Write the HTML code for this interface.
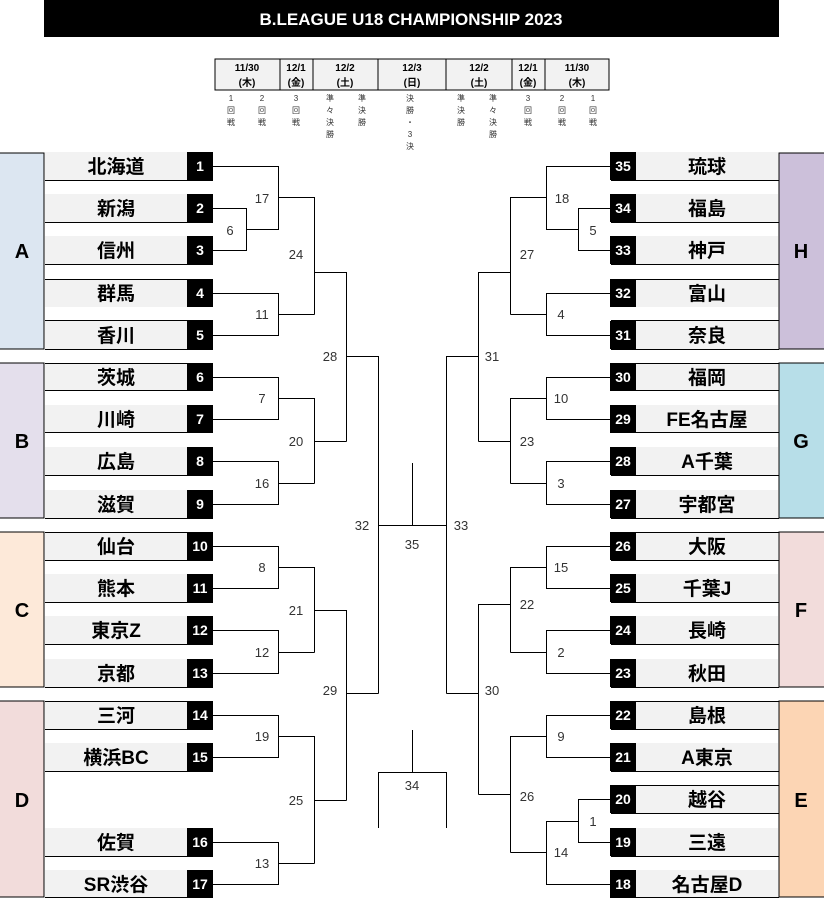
<!DOCTYPE html>
<html><head><meta charset="utf-8"><style>
html,body{margin:0;padding:0;background:#fff;}
svg{display:block;font-family:"Liberation Sans","Noto Sans CJK JP",sans-serif;}
.t{font-size:19px;font-weight:bold;fill:#000;text-anchor:middle;font-family:"Liberation Sans","Noto Sans CJK JP",sans-serif;}
.n{font-size:14px;font-weight:bold;fill:#fff;text-anchor:middle;}
.l{font-size:13px;fill:#333;text-anchor:middle;}
.g{font-size:20px;font-weight:bold;fill:#000;text-anchor:middle;}
.s{font-size:8px;fill:#333;text-anchor:middle;font-family:"Liberation Sans","Noto Sans CJK JP",sans-serif;}
.h{font-size:10px;font-weight:bold;fill:#000;text-anchor:middle;font-family:"Liberation Sans","Noto Sans CJK JP",sans-serif;}
</style></head><body>
<svg width="824" height="900" viewBox="0 0 824 900" xmlns="http://www.w3.org/2000/svg">
<rect x="44" y="0" width="735" height="37" fill="#000"/>
<text x="411" y="25" fill="#fff" font-size="17" font-weight="bold" text-anchor="middle">B.LEAGUE U18 CHAMPIONSHIP 2023</text>

<!-- schedule -->
<rect x="215" y="59" width="394" height="31" fill="#f2f2f2" stroke="#000"/>
<g stroke="#000"><line x1="280" y1="59" x2="280" y2="90"/><line x1="313" y1="59" x2="313" y2="90"/><line x1="378" y1="59" x2="378" y2="90"/><line x1="446" y1="59" x2="446" y2="90"/><line x1="512" y1="59" x2="512" y2="90"/><line x1="545" y1="59" x2="545" y2="90"/></g>
<g class="h">
<text x="247" y="71">11/30</text><text x="247" y="86">(木)</text>
<text x="296" y="71">12/1</text><text x="296" y="86">(金)</text>
<text x="345" y="71">12/2</text><text x="345" y="86">(土)</text>
<text x="412" y="71">12/3</text><text x="412" y="86">(日)</text>
<text x="479" y="71">12/2</text><text x="479" y="86">(土)</text>
<text x="528" y="71">12/1</text><text x="528" y="86">(金)</text>
<text x="577" y="71">11/30</text><text x="577" y="86">(木)</text>
</g>
<g class="s">
<text x="231" y="101">1</text><text x="231" y="113">回</text><text x="231" y="125">戦</text>
<text x="262" y="101">2</text><text x="262" y="113">回</text><text x="262" y="125">戦</text>
<text x="296" y="101">3</text><text x="296" y="113">回</text><text x="296" y="125">戦</text>
<text x="330" y="101">準</text><text x="330" y="113">々</text><text x="330" y="125">決</text><text x="330" y="137">勝</text>
<text x="362" y="101">準</text><text x="362" y="113">決</text><text x="362" y="125">勝</text>
<text x="410" y="101">決</text><text x="410" y="113">勝</text><text x="410" y="125">・</text><text x="410" y="137">3</text><text x="410" y="149">決</text>
<text x="461" y="101">準</text><text x="461" y="113">決</text><text x="461" y="125">勝</text>
<text x="493" y="101">準</text><text x="493" y="113">々</text><text x="493" y="125">決</text><text x="493" y="137">勝</text>
<text x="528" y="101">3</text><text x="528" y="113">回</text><text x="528" y="125">戦</text>
<text x="562" y="101">2</text><text x="562" y="113">回</text><text x="562" y="125">戦</text>
<text x="593" y="101">1</text><text x="593" y="113">回</text><text x="593" y="125">戦</text>
</g>

<!-- group bands -->
<g stroke="#000" stroke-width="1">
<rect x="-1" y="153" width="45" height="196" fill="#dce6f1"/>
<rect x="-1" y="363" width="45" height="155" fill="#e4dfec"/>
<rect x="-1" y="532" width="45" height="155" fill="#fde9d9"/>
<rect x="-1" y="701" width="45" height="196" fill="#f2dcdb"/>
<rect x="779" y="153" width="46" height="196" fill="#ccc0da"/>
<rect x="779" y="363" width="46" height="155" fill="#b7dee8"/>
<rect x="779" y="532" width="46" height="155" fill="#f2dcdb"/>
<rect x="779" y="701" width="46" height="196" fill="#fcd5b4"/>
</g>
<g class="g">
<text x="22" y="258">A</text><text x="22" y="448">B</text><text x="22" y="617">C</text><text x="22" y="807">D</text>
<text x="801" y="258">H</text><text x="801" y="448">G</text><text x="801" y="617">F</text><text x="801" y="807">E</text>
</g>

<!-- left teams -->
<g fill="#f2f2f2">
<rect x="45" y="152" width="142" height="28"/><rect x="45" y="194" width="142" height="28"/><rect x="45" y="236" width="142" height="28"/><rect x="45" y="279" width="142" height="28"/><rect x="45" y="321" width="142" height="28"/>
<rect x="45" y="363" width="142" height="28"/><rect x="45" y="405" width="142" height="28"/><rect x="45" y="447" width="142" height="28"/><rect x="45" y="490" width="142" height="28"/>
<rect x="45" y="532" width="142" height="28"/><rect x="45" y="574" width="142" height="28"/><rect x="45" y="616" width="142" height="28"/><rect x="45" y="659" width="142" height="28"/>
<rect x="45" y="701" width="142" height="28"/><rect x="45" y="743" width="142" height="28"/><rect x="45" y="828" width="142" height="28"/><rect x="45" y="870" width="142" height="28"/>
<rect x="636" y="152" width="142" height="28"/><rect x="636" y="194" width="142" height="28"/><rect x="636" y="236" width="142" height="28"/><rect x="636" y="279" width="142" height="28"/><rect x="636" y="321" width="142" height="28"/>
<rect x="636" y="363" width="142" height="28"/><rect x="636" y="405" width="142" height="28"/><rect x="636" y="447" width="142" height="28"/><rect x="636" y="490" width="142" height="28"/>
<rect x="636" y="532" width="142" height="28"/><rect x="636" y="574" width="142" height="28"/><rect x="636" y="616" width="142" height="28"/><rect x="636" y="659" width="142" height="28"/>
<rect x="636" y="701" width="142" height="28"/><rect x="636" y="743" width="142" height="28"/><rect x="636" y="785" width="142" height="28"/><rect x="636" y="828" width="142" height="28"/><rect x="636" y="870" width="142" height="28"/>
</g>
<g fill="#000">
<rect x="187" y="152" width="26" height="28"/><rect x="187" y="194" width="26" height="28"/><rect x="187" y="236" width="26" height="28"/><rect x="187" y="279" width="26" height="28"/><rect x="187" y="321" width="26" height="28"/>
<rect x="187" y="363" width="26" height="28"/><rect x="187" y="405" width="26" height="28"/><rect x="187" y="447" width="26" height="28"/><rect x="187" y="490" width="26" height="28"/>
<rect x="187" y="532" width="26" height="28"/><rect x="187" y="574" width="26" height="28"/><rect x="187" y="616" width="26" height="28"/><rect x="187" y="659" width="26" height="28"/>
<rect x="187" y="701" width="26" height="28"/><rect x="187" y="743" width="26" height="28"/><rect x="187" y="828" width="26" height="28"/><rect x="187" y="870" width="26" height="28"/>
<rect x="610" y="152" width="26" height="28"/><rect x="610" y="194" width="26" height="28"/><rect x="610" y="236" width="26" height="28"/><rect x="610" y="279" width="26" height="28"/><rect x="610" y="321" width="26" height="28"/>
<rect x="610" y="363" width="26" height="28"/><rect x="610" y="405" width="26" height="28"/><rect x="610" y="447" width="26" height="28"/><rect x="610" y="490" width="26" height="28"/>
<rect x="610" y="532" width="26" height="28"/><rect x="610" y="574" width="26" height="28"/><rect x="610" y="616" width="26" height="28"/><rect x="610" y="659" width="26" height="28"/>
<rect x="610" y="701" width="26" height="28"/><rect x="610" y="743" width="26" height="28"/><rect x="610" y="785" width="26" height="28"/><rect x="610" y="828" width="26" height="28"/><rect x="610" y="870" width="26" height="28"/>
</g>
<g stroke="#000">
<path d="M45 180.5H213M45 222.5H213M45 264.5H213M45 279.5H213M45 320.5H213M45 349.5H213M45 363.5H213M45 390.5H213M45 432.5H213M45 475.5H213M45 518.5H213M45 532.5H213M45 560.5H213M45 602.5H213M45 644.5H213M45 687.5H213M45 701.5H213M45 729.5H213M45 771.5H213M45 856.5H213M45 897.5H213"/>
<path d="M611 180.5H779M611 222.5H779M611 264.5H779M611 279.5H779M611 320.5H779M611 349.5H779M611 363.5H779M611 390.5H779M611 432.5H779M611 475.5H779M611 518.5H779M611 532.5H779M611 560.5H779M611 602.5H779M611 644.5H779M611 687.5H779M611 701.5H779M611 729.5H779M611 771.5H779M611 785.5H779M611 813.5H779M611 856.5H779M611 897.5H779"/>
</g>
<g class="t">
<text x="116" y="173">北海道</text><text x="116" y="215">新潟</text><text x="116" y="257">信州</text><text x="116" y="300">群馬</text><text x="116" y="342">香川</text>
<text x="116" y="384">茨城</text><text x="116" y="426">川崎</text><text x="116" y="468">広島</text><text x="116" y="511">滋賀</text>
<text x="116" y="553">仙台</text><text x="116" y="595">熊本</text><text x="116" y="637">東京Z</text><text x="116" y="680">京都</text>
<text x="116" y="722">三河</text><text x="116" y="764">横浜BC</text><text x="116" y="849">佐賀</text><text x="116" y="891">SR渋谷</text>
<text x="707" y="173">琉球</text><text x="707" y="215">福島</text><text x="707" y="257">神戸</text><text x="707" y="300">富山</text><text x="707" y="342">奈良</text>
<text x="707" y="384">福岡</text><text x="707" y="426">FE名古屋</text><text x="707" y="468">A千葉</text><text x="707" y="511">宇都宮</text>
<text x="707" y="553">大阪</text><text x="707" y="595">千葉J</text><text x="707" y="637">長崎</text><text x="707" y="680">秋田</text>
<text x="707" y="722">島根</text><text x="707" y="764">A東京</text><text x="707" y="806">越谷</text><text x="707" y="849">三遠</text><text x="707" y="891">名古屋D</text>
</g>
<g class="n">
<text x="200" y="171">1</text><text x="200" y="213">2</text><text x="200" y="255">3</text><text x="200" y="298">4</text><text x="200" y="340">5</text>
<text x="200" y="382">6</text><text x="200" y="424">7</text><text x="200" y="466">8</text><text x="200" y="509">9</text>
<text x="200" y="551">10</text><text x="200" y="593">11</text><text x="200" y="635">12</text><text x="200" y="678">13</text>
<text x="200" y="720">14</text><text x="200" y="762">15</text><text x="200" y="847">16</text><text x="200" y="889">17</text>
<text x="623" y="171">35</text><text x="623" y="213">34</text><text x="623" y="255">33</text><text x="623" y="298">32</text><text x="623" y="340">31</text>
<text x="623" y="382">30</text><text x="623" y="424">29</text><text x="623" y="466">28</text><text x="623" y="509">27</text>
<text x="623" y="551">26</text><text x="623" y="593">25</text><text x="623" y="635">24</text><text x="623" y="678">23</text>
<text x="623" y="720">22</text><text x="623" y="762">21</text><text x="623" y="804">20</text><text x="623" y="847">19</text><text x="623" y="889">18</text>
</g>

<!-- bracket lines -->
<g stroke="#000" stroke-width="1" fill="none">
<path d="M213 166.5H278.5V229.5H246.5M213 208.5H246.5V250.5H213M278 197.5H314.5"/>
<path d="M213 293.5H278.5V335.5H213M278 314.5H314.5M314.5 197V314.5M314 272.5H346.5"/>
<path d="M213 377.5H278.5V419.5H213M278 398.5H314.5M213 461.5H278.5V504.5H213M278 483.5H314.5M314.5 398V483.5M314 441.5H346.5"/>
<path d="M346.5 272V441.5M346 356.5H378.5"/>
<path d="M213 546.5H278.5V588.5H213M278 567.5H314.5M213 630.5H278.5V673.5H213M278 652.5H314.5M314.5 567V652.5M314 610.5H346.5"/>
<path d="M213 715.5H278.5V757.5H213M278 736.5H314.5M213 842.5H278.5V884.5H213M278 863.5H314.5M314.5 736V863.5M314 800.5H346.5"/>
<path d="M346.5 610V800.5M346 693.5H378.5M378.5 356V693.5M378 525.5H446M412.5 463V525.5"/>
<path d="M611 166.5H546.5V229.5H578.5M611 208.5H578.5V250.5H611M546 197.5H510.5"/>
<path d="M611 293.5H546.5V335.5H611M546 314.5H510.5M510.5 197V314.5M510 272.5H478.5"/>
<path d="M611 377.5H546.5V419.5H611M546 398.5H510.5M611 461.5H546.5V504.5H611M546 483.5H510.5M510.5 398V483.5M510 441.5H478.5"/>
<path d="M478.5 272V441.5M478 356.5H446.5"/>
<path d="M611 546.5H546.5V588.5H611M546 567.5H510.5M611 630.5H546.5V673.5H611M546 652.5H510.5M510.5 567V652.5M510 604.5H478.5"/>
<path d="M611 715.5H546.5V757.5H611M546 736.5H510.5M611 799.5H578.5V842.5H611M578 821.5H546.5V884.5H611M546 852.5H510.5M510.5 736V852.5M510 794.5H478.5"/>
<path d="M478.5 604V794.5M478 693.5H446.5M446.5 356V693.5"/>
<path d="M412.5 730V772.5M378.5 828V772.5H446.5V828"/>
</g>
<g class="l">
<text x="262" y="203">17</text><text x="230" y="235">6</text><text x="262" y="319">11</text><text x="296" y="259">24</text>
<text x="262" y="403">7</text><text x="262" y="488">16</text><text x="296" y="446">20</text><text x="330" y="361">28</text>
<text x="262" y="572">8</text><text x="262" y="657">12</text><text x="296" y="615">21</text>
<text x="262" y="741">19</text><text x="262" y="868">13</text><text x="296" y="805">25</text><text x="330" y="695">29</text>
<text x="362" y="530">32</text><text x="412" y="549">35</text><text x="461" y="530">33</text><text x="412" y="790">34</text>
<text x="562" y="203">18</text><text x="593" y="235">5</text><text x="561" y="319">4</text><text x="527" y="259">27</text><text x="492" y="361">31</text>
<text x="561" y="403">10</text><text x="561" y="488">3</text><text x="527" y="446">23</text>
<text x="561" y="572">15</text><text x="561" y="657">2</text><text x="527" y="609">22</text><text x="492" y="695">30</text>
<text x="561" y="741">9</text><text x="593" y="826">1</text><text x="561" y="857">14</text><text x="527" y="801">26</text>
</g>
</svg>
</body></html>
